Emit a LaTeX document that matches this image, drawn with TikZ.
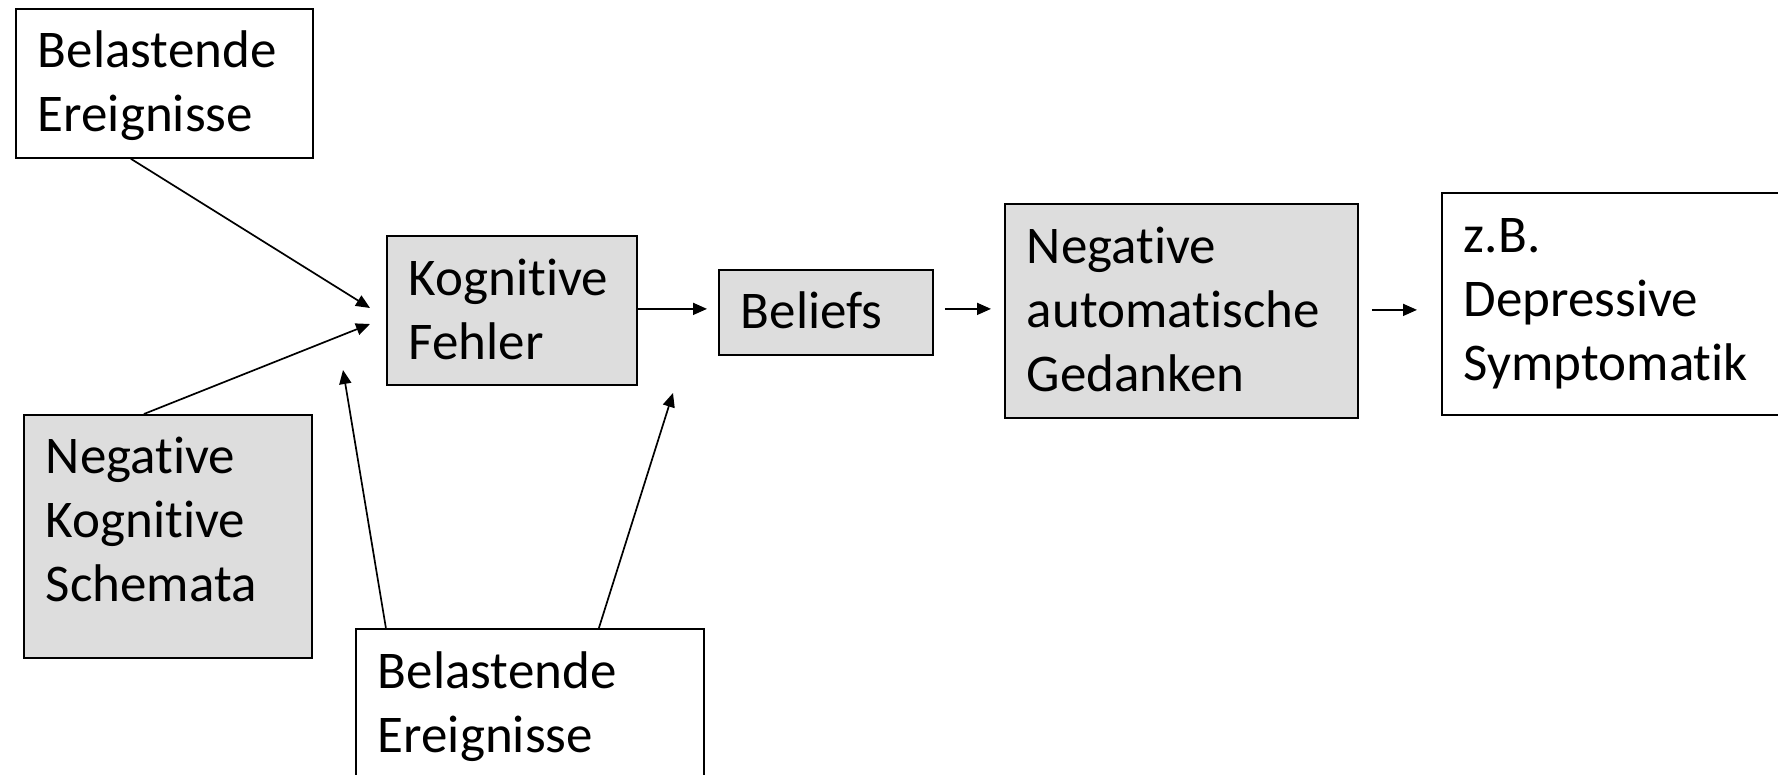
\documentclass[tikz,border=0pt]{standalone}
\usepackage{fontspec}
\setmainfont{Carlito}[Ligatures=NoCommon]
\usetikzlibrary{arrows.meta}
\definecolor{boxgray}{RGB}{221,221,221}
\tikzset{
  box/.style={draw, line width=0.9pt, anchor=north west, align=left,
    inner xsep=11pt, inner ysep=2.5pt,
    font=\fontsize{26.5}{31.8}\selectfont},
  greybox/.style={box, fill=boxgray},
  arr/.style={->, line width=0.85pt}
}

\begin{document}
\begin{tikzpicture}[>={Triangle[length=7pt,width=6pt]}, x=0.5pt, y=-0.5pt]

\clip (0,0) rectangle (1778,775);

% boxes
\node[box, text width=126.5pt, text height=27pt, text depth=42.5pt] (ev1) at (15,8) {Belastende\\Ereignisse};
\node[greybox, text width=122pt, text height=27pt, text depth=89.5pt] (nks) at (23,414) {Negative\\Kognitive\\Schemata};
\node[box, text width=152pt, text height=27.5pt, text depth=53.5pt] (ev2) at (355,628) {Belastende\\Ereignisse};
\node[greybox, text width=103pt, text height=27.5pt, text depth=42pt] (kf) at (386,235) {Kognitive\\Fehler};
\node[greybox, text width=85pt, text height=27pt, text depth=10.5pt] (bel) at (718,269) {Beliefs};
\node[greybox, text width=154.5pt, text height=27.5pt, text depth=74.5pt] (nag) at (1004,203) {Negative\\automatische\\Gedanken};
\node[box, text width=196pt, text height=27.5pt, text depth=78.5pt] (zb) at (1441,192) {z.B.\\Depressive\\Symptomatik};

% free arrow ends
\coordinate (t1) at (370,308);
\coordinate (t2) at (370,324);
\coordinate (t3) at (343,370);
\coordinate (t4) at (673,393);

% arrows
\draw[arr] ([xshift=-16.75pt]ev1.south) -- (t1);
\draw[arr] ([xshift=-12pt]nks.north) -- (t2);
\draw[arr] ([xshift=-72pt]ev2.north) -- (t3);
\draw[arr] ([xshift=34.5pt]ev2.north) -- (t4);

\draw[arr, shorten >=5.5pt] ([yshift=0.75pt]kf.east) -- ([yshift=0.75pt]kf.east -| bel.west);
\draw[arr, shorten <=5.5pt, shorten >=6.5pt] ([yshift=1.75pt]bel.east) -- ([yshift=1.75pt]bel.east -| nag.west);
\draw[arr, shorten <=6.5pt, shorten >=12pt] ([yshift=0.5pt]nag.east) -- ([yshift=0.5pt]nag.east -| zb.west);

\end{tikzpicture}
\end{document}
